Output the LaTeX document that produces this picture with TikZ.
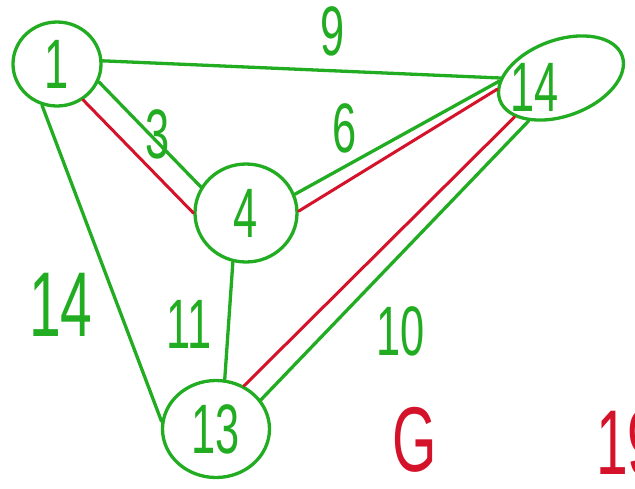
\documentclass[tikz,border=0pt]{standalone}
\usepackage{fontspec}
\newfontfamily\hand[FakeStretch=0.62]{Liberation Sans}
\usetikzlibrary{shapes.geometric}
\definecolor{penG}{RGB}{34,172,34}
\definecolor{penR}{RGB}{212,18,42}

\begin{document}
\begin{tikzpicture}[x=1pt,y=-1pt,
  vtx/.style={draw=penG,line width=3.3pt,ellipse,inner sep=0pt,text=penG,font=\hand\fontsize{70}{70}\selectfont},
  wt/.style={text=penG,inner sep=0pt,font=\hand\fontsize{70}{70}\selectfont},
  big/.style={font=\hand\fontsize{92}{92}\selectfont},
  edge/.style={penG,line width=3.3pt,line cap=round},
  tree/.style={penR,line width=3pt,line cap=round}]
\useasboundingbox (0,0) rectangle (635,488);
% vertices
\node[vtx,minimum width=88pt,minimum height=84pt] (n1) at (57,64) {1};
\node[vtx,minimum width=102pt,minimum height=98pt] (n4) at (246,213) {4};
\node[vtx,minimum width=107pt,minimum height=97pt] (n13) at (216,429) {13};
\node[vtx,minimum width=130pt,minimum height=76pt,rotate=20] (n14) at (561,78) {};
\node[wt] (t14) at (535,87) {14};
% edges
\draw[edge] (n1.4) -- (n14.160);
\draw[edge] (n1.-23) -- (n4.150);
\draw[tree] (n1.-54) -- (n4.180);
\draw[edge] (n4.21) -- (n14.163);
\draw[tree] (n4.2) -- (n14.170);
\draw[edge] (n1.-110) -- (n13.172);
\draw[edge] (n4.-105) -- (n13.80);
\draw[edge] (n14.213) -- (n13.33);
\draw[tree] (n14.200) -- (n13.57);
% weights
\node[wt] (w9) at (333,31) {9};
\node[wt] (w3) at (158,134) {3};
\node[wt] (w6) at (345,128) {6};
\node[wt,big] (w14) at (61,305) {14};
\node[wt] (w11) at (189,324) {11};
\node[wt] (w10) at (401,331) {10};
% caption
\node[wt,big,text=penR] (cap) at (415,440) {G};
\node[wt,big,text=penR,anchor=west] (cost) at (596,443) {19};
\end{tikzpicture}
\end{document}
